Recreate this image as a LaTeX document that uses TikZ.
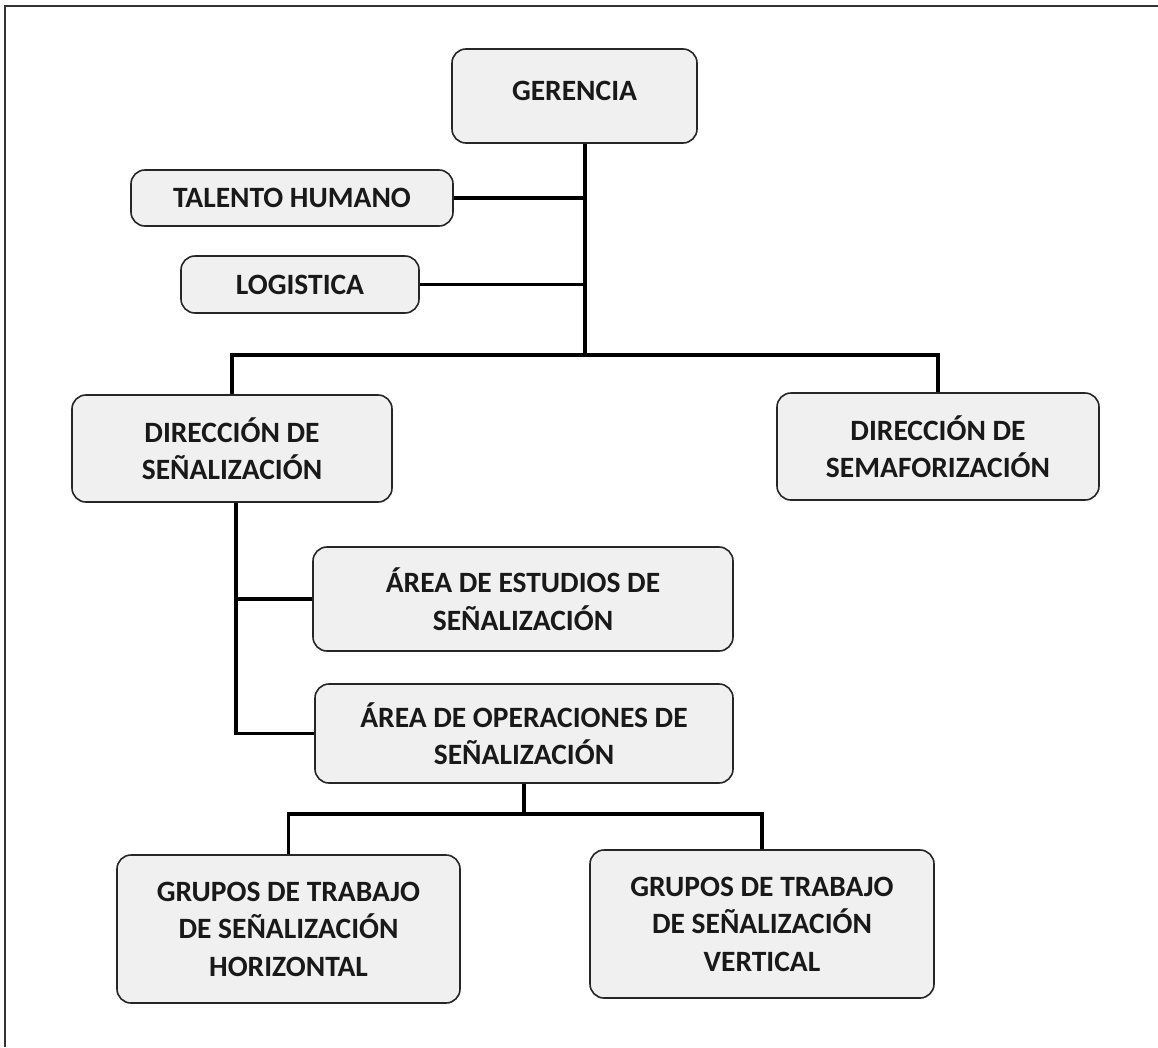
\documentclass[tikz,border=0pt]{standalone}
\usepackage{fontspec}
\setmainfont{Carlito}
\begin{document}
\begin{tikzpicture}[x=1pt,y=-1pt,
  orgbox/.style={draw=black!85, line width=1.6pt, fill=black!6, rounded corners=14pt,
    inner sep=0pt, align=center, text=black!90,
    font=\fontsize{29.5}{37.5}\selectfont\bfseries},
  link/.style={draw=black, line width=3.6pt}]
\useasboundingbox (0,0) rectangle (1158,1047);
\draw[line width=1.5pt, black!80] (5,1047) -- (5,6) -- (1158,6);

\node[orgbox, minimum width=245pt, minimum height=94pt, text height=20pt, text depth=12pt] (ger) at (574.5,96) {GERENCIA};
\node[orgbox, minimum width=322pt, minimum height=56pt] (th) at (292,198) {TALENTO HUMANO};
\node[orgbox, minimum width=238pt, minimum height=57pt] (lg) at (300,284.5) {LOGISTICA};
\node[orgbox, minimum width=320pt, minimum height=107pt] (ds) at (232,448.5) {DIRECCIÓN DE\\SEÑALIZACIÓN};
\node[orgbox, minimum width=322pt, minimum height=107pt] (sem) at (938,446.5) {DIRECCIÓN DE\\SEMAFORIZACIÓN};
\node[orgbox, minimum width=420pt, minimum height=104pt] (est) at (523,599) {ÁREA DE ESTUDIOS DE\\SEÑALIZACIÓN};
\node[orgbox, minimum width=418pt, minimum height=99pt] (op) at (524,733.5) {ÁREA DE OPERACIONES DE\\SEÑALIZACIÓN};
\node[orgbox, minimum width=343pt, minimum height=148pt] (gh) at (288.5,929) {GRUPOS DE TRABAJO\\DE SEÑALIZACIÓN\\HORIZONTAL};
\node[orgbox, minimum width=344pt, minimum height=148pt] (gv) at (762,924) {GRUPOS DE TRABAJO\\DE SEÑALIZACIÓN\\VERTICAL};

\coordinate (j1) at (585,355);
\coordinate (j2) at (236,733.5);
\coordinate (j3) at (524,814);

\draw[link] (ger.south -| j1) -- (j1);
\draw[link] (th.east) -- (th.east -| j1);
\draw[link] (lg.east) -- (lg.east -| j1);
\draw[link] (ds.north) |- (j1) -| (sem.north);
\draw[link] (ds.south -| j2) -- (j2) -- (op.west);
\draw[link] (est.west -| j2) -- (est.west);
\draw[link] (op.south) -- (j3);
\draw[link] (gh.north) |- (j3) -| (gv.north);
\end{tikzpicture}
\end{document}
